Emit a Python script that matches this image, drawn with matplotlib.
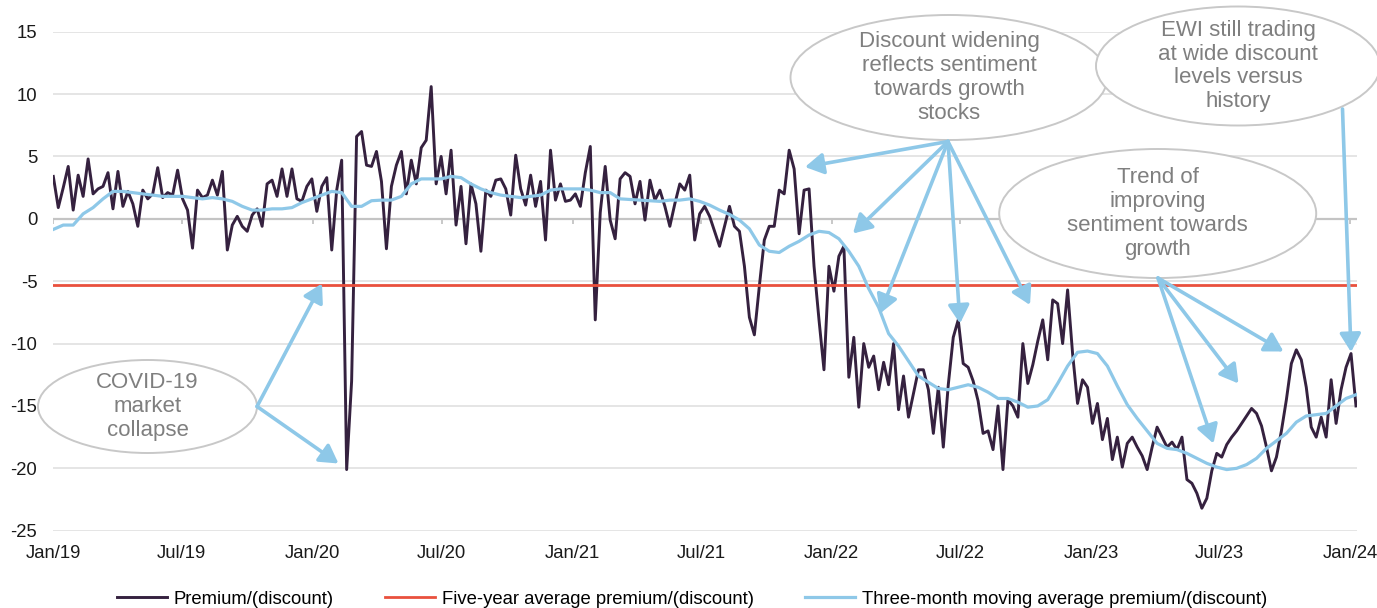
import matplotlib
matplotlib.use("Agg")
import matplotlib.pyplot as plt
import matplotlib.dates as mdates
from matplotlib.patches import Ellipse
import pandas as pd
import numpy as np

plt.rcParams['font.family'] = ['Liberation Sans', 'DejaVu Sans']

# ---------------- data (weekly premium/(discount), %) ----------------
start_date = "2019-01-01"
premium = [
    3.4, 0.9, 2.5, 4.2, 0.7, 3.5, 1.8, 4.8, 2.0, 2.4,
    2.6, 3.7, 0.8, 3.8, 1.0, 2.2, 1.2, -0.6, 2.3, 1.6,
    2.0, 4.1, 1.7, 2.1, 1.9, 3.9, 1.6, 0.7, -2.35, 2.3,
    1.7, 1.9, 3.1, 1.9, 3.8, -2.5, -0.5, 0.2, -0.6, -1.0,
    0.3, 0.8, -0.6, 2.8, 3.1, 1.8, 4.0, 1.8, 4.0, 1.6,
    1.4, 2.6, 3.2, 0.6, 2.6, 3.3, -2.5, 2.3, 4.7, -20.1,
    -13.0, 6.6, 7.0, 4.3, 4.2, 5.4, 3.0, -2.4, 2.6, 4.3,
    5.4, 2.0, 4.7, 2.8, 5.7, 6.3, 10.6, 2.8, 5.0, 2.0,
    5.5, -0.5, 2.6, -2.0, 2.8, 1.2, -2.6, 2.3, 1.8, 3.1,
    3.2, 2.4, 0.3, 5.1, 2.4, 1.1, 3.5, 1.0, 3.0, -1.7,
    5.5, 1.5, 2.8, 1.4, 1.5, 2.0, 1.0, 3.7, 5.8, -8.1,
    0.5, 4.2, -0.1, -1.6, 3.2, 3.7, 3.4, 1.2, 3.0, -0.1,
    3.1, 1.5, 2.3, 1.0, -0.6, 1.2, 2.8, 2.3, 3.5, -1.7,
    0.4, 1.0, 0.2, -1.0, -2.2, -0.6, 1.0, -0.6, -1.0, -3.8,
    -7.9, -9.3, -5.4, -1.7, -0.6, -0.6, 2.3, 2.0, 5.5, 4.0,
    -1.2, 2.3, 2.4, -3.8, -8.1, -12.1, -3.8, -5.8, -3.0, -2.2,
    -12.7, -9.5, -15.1, -10.0, -11.9, -11.0, -13.7, -11.5, -13.3, -10.0,
    -15.3, -12.6, -15.9, -14.0, -12.1, -12.1, -13.7, -17.2, -13.5, -18.3,
    -13.3, -9.5, -8.1, -11.6, -11.9, -13.0, -14.6, -17.2, -17.0, -18.5,
    -15.0, -20.1, -14.5, -15.0, -15.9, -10.0, -13.2, -11.7, -9.8, -8.1,
    -11.3, -6.5, -6.8, -10.0, -5.7, -10.8, -14.8, -12.9, -13.5, -16.4,
    -14.8, -17.7, -16.0, -19.3, -17.5, -19.9, -18.0, -17.5, -18.3, -19.0,
    -20.1, -18.3, -16.7, -17.5, -18.3, -17.9, -18.5, -17.5, -20.9, -21.2,
    -22.0, -23.2, -22.4, -20.2, -18.8, -19.1, -18.1, -17.5, -17.0, -16.4,
    -15.8, -15.2, -15.6, -16.6, -18.3, -20.2, -19.1, -17.0, -14.5, -11.6,
    -10.5, -11.3, -13.5, -16.7, -17.5, -15.9, -17.5, -12.9, -16.4, -13.7,
    -11.9, -10.8, -15.0,
]

# fortnightly three-month moving average
moving_avg = [
    -0.85, -0.5, -0.5, 0.4, 0.9, 1.6, 2.2, 2.2, 2.1, 2.0,
    1.9, 1.8, 1.8, 1.8, 1.7, 1.6, 1.7, 1.6, 1.4, 1.0,
    0.7, 0.7, 0.8, 0.8, 0.9, 1.3, 1.6, 1.9, 2.2, 2.1,
    1.0, 1.0, 1.45, 1.5, 1.5, 1.8, 2.8, 3.2, 3.2, 3.2,
    3.4, 3.3, 2.8, 2.4, 2.1, 1.9, 1.8, 1.7, 1.8, 1.9,
    2.3, 2.4, 2.4, 2.4, 2.3, 2.1, 2.1, 1.6, 1.55, 1.5,
    1.45, 1.4, 1.5, 1.5, 1.6, 1.4, 1.1, 0.7, 0.35, -0.1,
    -0.8, -2.1, -2.6, -2.7, -2.2, -1.8, -1.3, -1.0, -1.1, -1.6,
    -2.6, -3.8, -5.6, -7.1, -9.2, -10.2, -11.4, -12.6, -13.1, -13.6,
    -13.7, -13.5, -13.3, -13.5, -13.9, -14.4, -14.4, -14.7, -15.1, -15.0,
    -14.5, -13.2, -11.8, -10.7, -10.6, -10.8, -11.8, -13.4, -14.9, -16.0,
    -17.0, -18.0, -18.4, -18.5, -18.8, -19.2, -19.6, -19.9, -20.1, -20.0,
    -19.7, -19.2, -18.4, -17.8, -17.2, -16.3, -15.8, -15.7, -15.6, -15.0,
    -14.4, -14.1,
]

five_year_avg = -5.3

x_tick_labels = ["Jan/19", "Jul/19", "Jan/20", "Jul/20", "Jan/21", "Jul/21",
                 "Jan/22", "Jul/22", "Jan/23", "Jul/23", "Jan/24"]
x_tick_dates = ["2019-01-01", "2019-07-01", "2020-01-01", "2020-07-01", "2021-01-01",
                "2021-07-01", "2022-01-01", "2022-07-01", "2023-01-01", "2023-07-01",
                "2024-01-01"]
y_ticks = [15, 10, 5, 0, -5, -10, -15, -20, -25]

legend_labels = ["Premium/(discount)", "Five-year average premium/(discount)",
                 "Three-month moving average premium/(discount)"]

# ---------------- styling ----------------
C_PREM = "#35213f"
C_RED = "#e9503d"
C_BLUE = "#8ec8e8"
C_GRID = "#e3e3e3"
C_AXIS = "#c4c4c4"
C_NOTE = "#7f7f7f"

W, H = 1377, 608
fig = plt.figure(figsize=(W / 100, H / 100), dpi=100)
ax = fig.add_axes([53.3 / W, 1 - 530.7 / H, (1356.7 - 53.3) / W, (530.7 - 31.7) / H])

prem_dates = pd.date_range(start_date, periods=len(premium), freq="7D")
ma_dates = pd.date_range(start_date, periods=len(moving_avg), freq="14D")

for yv in y_ticks:
    if yv != 0:
        ax.axhline(yv, color=C_GRID, lw=1.3, zorder=0)
ax.axhline(0, color=C_AXIS, lw=1.6, zorder=1)
tick_d = pd.to_datetime(x_tick_dates)
ax.vlines(tick_d, -0.45, 0, color=C_AXIS, lw=1.3, zorder=1)

ax.plot(prem_dates, premium, color=C_PREM, lw=2.1, zorder=3, label=legend_labels[0])
ax.axhline(five_year_avg, color=C_RED, lw=2.0, zorder=4, label=legend_labels[1])
ax.plot(ma_dates, moving_avg, color=C_BLUE, lw=2.3, zorder=5, label=legend_labels[2])

ax.set_xlim(pd.Timestamp("2019-01-01"), pd.Timestamp("2024-01-10"))
ax.set_ylim(-25, 15)
ax.set_yticks(y_ticks)
ax.set_yticklabels([str(v) for v in y_ticks], fontsize=13.3, color="#1a1a1a")
ax.set_xticks(tick_d)
ax.set_xticklabels(x_tick_labels, fontsize=13.3, color="#1a1a1a")
ax.tick_params(axis="y", length=0, pad=11.5)
ax.tick_params(axis="x", length=0, pad=10)
for s in ax.spines.values():
    s.set_visible(False)

handles, labels = ax.get_legend_handles_labels()
fig.legend(handles, labels, loc="center", bbox_to_anchor=(0.5025, 1 - 599 / H), ncol=3,
           frameon=False, fontsize=13.3, handlelength=2.7, handletextpad=0.38,
           columnspacing=2.76)

# ---------------- annotation overlay (figure pixels) ----------------
ov = fig.add_axes([0, 0, 1, 1])
ov.set_xlim(0, W)
ov.set_ylim(H, 0)
ov.axis("off")
ov.patch.set_alpha(0)

notes = [
    dict(c=(147.5, 406.5), w=219, h=93, text="COVID-19\nmarket\ncollapse"),
    dict(c=(949, 77.5), w=317, h=125,
         text="Discount widening\nreflects sentiment\ntowards growth\nstocks"),
    dict(c=(1238, 66), w=284, h=119,
         text="EWI still trading\nat wide discount\nlevels versus\nhistory"),
    dict(c=(1157.7, 213.5), w=317, h=129,
         text="Trend of\nimproving\nsentiment towards\ngrowth"),
]
for n in notes:
    ov.add_patch(Ellipse(n["c"], n["w"], n["h"], facecolor="white",
                         edgecolor="#c8c8c8", lw=1.4, zorder=2))
    ov.text(n["c"][0], n["c"][1], n["text"], ha="center", va="center",
            fontsize=16, color=C_NOTE, linespacing=1.18, zorder=3)

arrows = [
    ((257, 406.5), (322, 283.5)),
    ((257, 406.5), (338.5, 463.5)),
    ((948, 141.5), (805, 167)),
    ((948, 141.5), (853, 233.5)),
    ((948, 141.5), (880, 313.5)),
    ((948, 141.5), (960, 323.5)),
    ((948, 141.5), (1030, 305)),
    ((1342.5, 109), (1351, 352)),
    ((1158, 278), (1213.5, 443.5)),
    ((1158, 278), (1238.5, 383.5)),
    ((1158, 278), (1283.5, 351.5)),
]
for tail, head in arrows:
    ov.annotate("", xy=head, xytext=tail,
                arrowprops=dict(arrowstyle="-|>,head_length=0.55,head_width=0.32",
                                color=C_BLUE, lw=2.6, mutation_scale=20,
                                shrinkA=0, shrinkB=0), zorder=4)

fig.savefig("out.png", dpi=100)
